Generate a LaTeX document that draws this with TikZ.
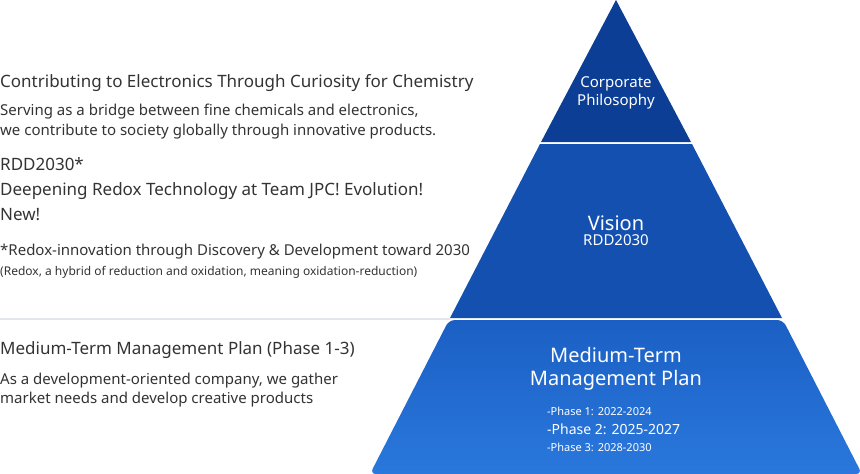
\documentclass[tikz,border=0pt]{standalone}
\usepackage{fontspec}
\setmainfont{Noto Sans}
\usepackage{xcolor}
\usetikzlibrary{positioning}
\definecolor{txtgray}{HTML}{333333}
\definecolor{tierA}{HTML}{0B3E94}
\definecolor{tierB}{HTML}{1450B0}
\definecolor{tierC}{HTML}{1B5FC4}
\definecolor{tierD}{HTML}{2A78DC}
\definecolor{rulegray}{HTML}{E3E6EE}

\begin{document}
\begin{tikzpicture}[x=1pt, y=-1pt,
    head/.style={anchor=base west, text=txtgray, font=\fontsize{17}{20}\selectfont\bfseries, inner sep=0pt},
    body/.style={anchor=base west, text=txtgray, font=\fontsize{15}{20}\selectfont, inner sep=0pt, align=left},
    tier/.style={text=white, font=\bfseries, align=center, inner sep=0pt}]
    \useasboundingbox (0,0) rectangle (860,474);
    % left rule
    \draw[rulegray, line width=1.2pt] (0,319) -- (450,319);
    % pyramid tiers
    \fill[tierA] (616,0) -- (691,142) -- (541,142) -- cycle;
    \fill[tierB] (540,144) -- (692,144) -- (782,318) -- (450,318) -- cycle;
    \shade[top color=tierC, bottom color=tierD, rounded corners=6pt]
        (449,320) -- (783,320) -- (862,474) -- (370,474) -- cycle;
    % tier labels
    \node[tier, font=\fontsize{15}{18}\selectfont\bfseries] (philo) at (616,93) {Corporate\\Philosophy};
    \node[tier, font=\fontsize{20}{22}\selectfont\bfseries] (vision) at (616,223) {Vision};
    \node[tier, font=\fontsize{15}{18}\selectfont\bfseries, below=4pt of vision] (rdd) {RDD2030};
    \node[tier, font=\fontsize{20}{23}\selectfont\bfseries] (plan) at (616,369) {Medium-Term\\Management Plan};
    \node[anchor=base west, text=white, font=\fontsize{11}{13}\selectfont, inner sep=0pt] (ph1) at (547,415) {-Phase 1: 2022-2024};
    \node[anchor=base west, text=white, font=\fontsize{14}{16}\selectfont\bfseries, inner sep=0pt] (ph2) at (547,434) {-Phase 2: 2025-2027};
    \node[anchor=base west, text=white, font=\fontsize{11}{13}\selectfont, inner sep=0pt] (ph3) at (547,451) {-Phase 3: 2028-2030};
    % left texts
    \node[head] (philohead) at (0,87) {Contributing to Electronics Through Curiosity for Chemistry};
    \node[body] (philobody) at (0,115) {Serving as a bridge between fine chemicals and electronics,};
    \node[body] (philobody2) at (0,135) {we contribute to society globally through innovative products.};
    \node[head] (rddhead) at (0,170) {RDD2030*};
    \node[head] (rddhead2) at (0,195) {Deepening Redox Technology at Team JPC! Evolution!};
    \node[head] (rddhead3) at (0,220) {New!};
    \node[body] (rddnote) at (0,255) {\textbf{*R}edox-innovation through \textbf{D}iscovery \& \textbf{D}evelopment toward \textbf{2030}};
    \node[body, font=\fontsize{12}{14}\selectfont] (rddnote2) at (0,275) {(Redox, a hybrid of reduction and oxidation, meaning oxidation-reduction)};
    \node[head] (planhead) at (0,354) {Medium-Term Management Plan (Phase 1-3)};
    \node[body] (planbody) at (0,384) {As a development-oriented company, we gather};
    \node[body] (planbody2) at (0,403) {market needs and develop creative products};
\end{tikzpicture}
\end{document}
